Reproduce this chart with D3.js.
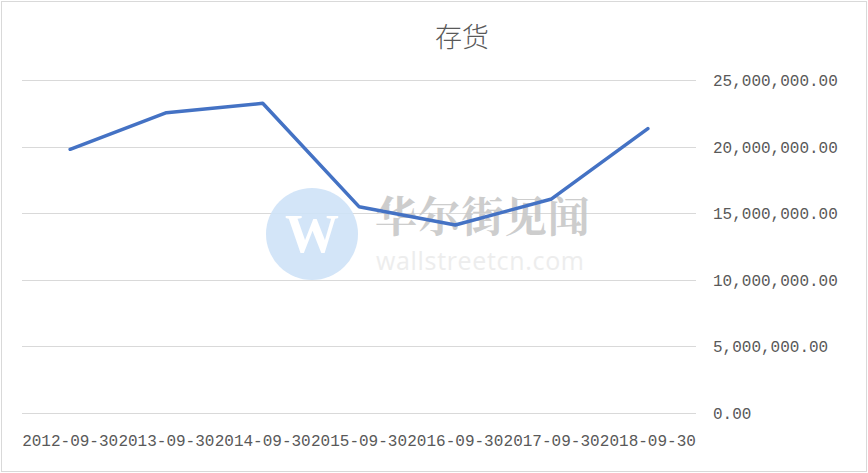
<!DOCTYPE html>
<html><head><meta charset="utf-8">
<script src="https://cdn.jsdelivr.net/npm/d3@7"></script>
<style>body{margin:0;background:#fff}svg{display:block}</style>
</head><body>
<svg id="c" width="868" height="473"></svg>
<script>
const title = "存货";
const categories = ["2012-09-30","2013-09-30","2014-09-30","2015-09-30","2016-09-30","2017-09-30","2018-09-30"];
const values = [19800000, 22550000, 23250000, 15490000, 14110000, 16070000, 21350000];
const yTicks = [0, 5000000, 10000000, 15000000, 20000000, 25000000];

const svg = d3.select("#c");
const W = 868, H = 473;
const m = {left: 22, right: 172, top: 80, bottom: 60};
const x = d3.scaleBand().domain(categories).range([m.left, W - m.right]);
const y = d3.scaleLinear().domain([0, 25000000]).range([H - m.bottom, m.top]);

svg.append("rect").attr("x", 1.5).attr("y", 1.5).attr("width", W - 3).attr("height", H - 3)
  .attr("fill", "#fff").attr("stroke", "#d9d9d9");

// gridlines
svg.append("g").selectAll("line").data(yTicks).join("line")
  .attr("x1", m.left).attr("x2", W - m.right)
  .attr("y1", d => Math.round(y(d)) + 0.5).attr("y2", d => Math.round(y(d)) + 0.5)
  .attr("stroke", "#d9d9d9").attr("stroke-width", 1);

// watermark
const wm = svg.append("g").attr("opacity", 0.9);
wm.append("circle").attr("cx", 312).attr("cy", 234).attr("r", 46).attr("fill", "#cfe3f8");
wm.append("text").attr("x", 312).attr("y", 252).attr("text-anchor", "middle")
  .attr("font-family", "Liberation Serif, serif").attr("font-weight", "bold").attr("font-size", 54)
  .attr("fill", "#fff").text("W");
wm.append("text").attr("x", 375).attr("y", 232)
  .attr("font-family", "Noto Serif CJK SC, Noto Sans CJK SC, serif").attr("font-weight", "bold").attr("font-size", 42)
  .attr("fill", "#c8c8c8").attr("textLength", 215).text("华尔街见闻");
wm.append("text").attr("x", 376).attr("y", 270)
  .attr("font-family", "Open Sans, sans-serif").attr("font-size", 25)
  .attr("fill", "#ececec").attr("textLength", 208).text("wallstreetcn.com");

// y axis labels (right)
svg.append("g").selectAll("text").data(yTicks).join("text")
  .attr("x", 713).attr("y", d => y(d) + 6)
  .attr("font-family", "Liberation Mono, DejaVu Sans Mono, monospace").attr("font-size", 16)
  .attr("fill", "#595959").text(d => d3.format(",.2f")(d));

// x labels
svg.append("g").selectAll("text").data(categories).join("text")
  .attr("x", d => x(d) + x.bandwidth() / 2).attr("y", 446).attr("text-anchor", "middle")
  .attr("font-family", "Liberation Mono, DejaVu Sans Mono, monospace").attr("font-size", 16)
  .attr("fill", "#595959").text(d => d);

// line
const line = d3.line().x((d, i) => x(categories[i]) + x.bandwidth() / 2).y(d => y(d));
svg.append("path").datum(values).attr("d", line).attr("fill", "none")
  .attr("stroke", "#4472c4").attr("stroke-width", 3.5).attr("stroke-linejoin", "round").attr("stroke-linecap", "round");

// title
svg.append("text").attr("x", 462).attr("y", 47).attr("text-anchor", "middle")
  .attr("font-family", "Noto Sans CJK SC, sans-serif").attr("font-weight", 300).attr("font-size", 27)
  .attr("fill", "#595959").text(title);
</script>
</body></html>
